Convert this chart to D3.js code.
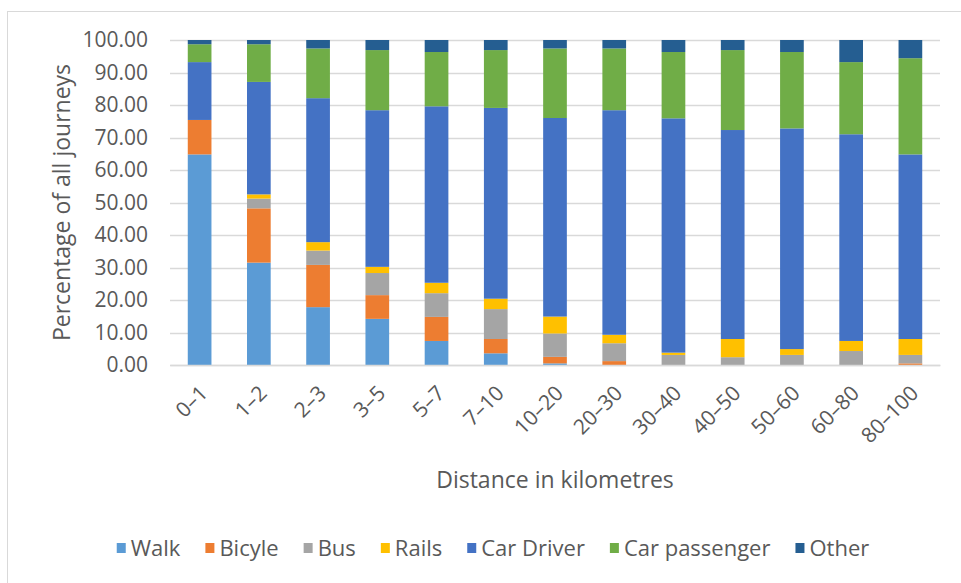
<!DOCTYPE html>
<html>
<head>
<meta charset="utf-8">
<script src="https://cdn.jsdelivr.net/npm/d3@7"></script>
<style>
  body { margin: 0; background: #fff; }
  svg { display: block; }
  text { font-family: "Open Sans", sans-serif; fill: #595959; }
</style>
</head>
<body>
<svg id="chart"></svg>
<script>
// distance bands (km)
var categories = ["0–1", "1–2", "2–3", "3–5", "5–7", "7–10", "10–20", "20–30", "30–40", "40–50", "50–60", "60–80", "80–100"];

// share of journeys per mode (%)
var walk         = [64.8, 31.5, 17.8, 14.2,  7.4,  3.6,  0.5,  0.0,  0.0,  0.0,  0.0,  0.0,  0.0];
var bicycle      = [10.6, 16.7, 13.0,  7.3,  7.4,  4.4,  2.0,  1.2,  0.0,  0.0,  0.0,  0.0,  0.5];
var bus          = [ 0.0,  3.0,  4.4,  6.8,  7.3,  9.2,  7.2,  5.5,  3.1,  2.4,  3.1,  4.3,  2.6];
var rails        = [ 0.0,  1.3,  2.6,  1.9,  3.2,  3.2,  5.2,  2.6,  0.7,  5.6,  1.8,  3.1,  4.9];
var carDriver    = [17.8, 34.6, 44.3, 48.2, 54.3, 58.7, 61.1, 69.1, 72.1, 64.3, 67.9, 63.6, 56.8];
var carPassenger = [ 5.5, 11.6, 15.3, 18.5, 16.7, 17.8, 21.4, 19.0, 20.4, 24.6, 23.5, 22.2, 29.6];
var other        = [ 1.3,  1.3,  2.6,  3.1,  3.7,  3.1,  2.6,  2.6,  3.7,  3.1,  3.7,  6.8,  5.6];

var seriesNames  = ["Walk", "Bicyle", "Bus", "Rails", "Car Driver", "Car passenger", "Other"];
var seriesValues = [walk, bicycle, bus, rails, carDriver, carPassenger, other];
var colors       = ["#5B9BD5", "#ED7D31", "#A5A5A5", "#FFC000", "#4472C4", "#70AD47", "#255E91"];
var yTicks       = [0, 10, 20, 30, 40, 50, 60, 70, 80, 90, 100];

var width = 961, height = 583;
var plot = {left: 170, right: 940, top: 40, bottom: 365};

var svg = d3.select("#chart")
    .attr("width", width)
    .attr("height", height);

// chart frame (only left and top edges are visible)
svg.append("rect")
    .attr("x", 7.5).attr("y", 11.5)
    .attr("width", width + 20).attr("height", height + 20)
    .attr("fill", "none")
    .attr("stroke", "#d9d9d9");

// build table for the stack
var table = categories.map(function(c, i) {
    var row = {cat: c};
    seriesNames.forEach(function(s, j) { row[s] = seriesValues[j][i]; });
    return row;
});
var stacked = d3.stack().keys(seriesNames)(table);

var x = d3.scaleBand()
    .domain(categories)
    .range([plot.left, plot.right])
    .paddingInner(0.6)
    .paddingOuter(0.3);

var y = d3.scaleLinear()
    .domain([0, 100])
    .range([plot.bottom, plot.top]);

// gridlines
svg.append("g")
    .selectAll("line")
    .data(yTicks)
    .join("line")
        .attr("x1", plot.left).attr("x2", plot.right)
        .attr("y1", function(d) { return Math.round(y(d)) + 0.5; })
        .attr("y2", function(d) { return Math.round(y(d)) + 0.5; })
        .attr("stroke", "#d9d9d9")
        .attr("stroke-width", 1.3);

// bars
svg.append("g")
    .selectAll("g")
    .data(stacked)
    .join("g")
        .attr("fill", function(d, i) { return colors[i]; })
    .selectAll("rect")
    .data(function(d) { return d; })
    .join("rect")
        .attr("x", function(d) { return x(d.data.cat); })
        .attr("y", function(d) { return y(d[1]); })
        .attr("width", x.bandwidth())
        .attr("height", function(d) { return y(d[0]) - y(d[1]); });

// y axis labels
var yAxis = d3.axisLeft(y)
    .tickValues(yTicks)
    .tickFormat(d3.format(".2f"))
    .tickSize(0)
    .tickPadding(0);
svg.append("g")
    .attr("transform", "translate(148,0)")
    .call(yAxis)
    .call(function(g) { g.select(".domain").remove(); })
    .selectAll("text")
        .attr("font-size", 21)
        .attr("font-family", null)
        .attr("fill", "#595959");

// x axis
var xAxis = d3.axisBottom(x).tickSize(0).tickPadding(0);
var xg = svg.append("g")
    .attr("transform", "translate(0," + plot.bottom + ")")
    .call(xAxis);
xg.select(".domain").attr("stroke", "#d9d9d9").attr("stroke-width", 1.3);
xg.selectAll("text")
    .attr("font-size", 21)
    .attr("font-family", null)
    .attr("fill", "#595959")
    .attr("text-anchor", "end")
    .attr("dy", "0.7em")
    .attr("transform", function() { return "translate(-1,19) rotate(-45)"; });

// axis titles
svg.append("text")
    .attr("x", (plot.left + plot.right) / 2)
    .attr("y", 488)
    .attr("text-anchor", "middle")
    .attr("font-size", 23)
    .text("Distance in kilometres");

svg.append("text")
    .attr("transform", "translate(70," + (plot.top + plot.bottom) / 2 + ") rotate(-90)")
    .attr("text-anchor", "middle")
    .attr("font-size", 23)
    .text("Percentage of all journeys");

// legend
var legend = svg.append("g");
var lx = 0, gap = 25;
seriesNames.forEach(function(name, i) {
    var item = legend.append("g").attr("transform", "translate(" + lx + ",0)");
    item.append("rect")
        .attr("x", 0).attr("y", -5)
        .attr("width", 9).attr("height", 10)
        .attr("fill", colors[i]);
    var t = item.append("text")
        .attr("x", 14)
        .attr("y", 8)
        .attr("font-size", 22)
        .text(name);
    lx += 14 + t.node().getComputedTextLength() + gap;
});
lx -= gap;
legend.attr("transform", "translate(" + (493 - lx / 2) + ",548)");
</script>
</body>
</html>
